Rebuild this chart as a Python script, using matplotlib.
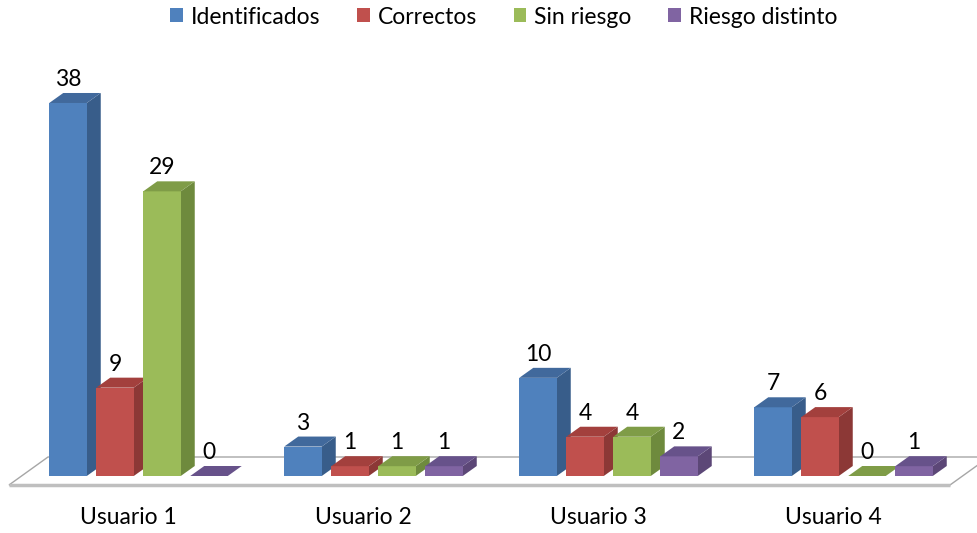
import matplotlib
matplotlib.use("Agg")
import matplotlib.pyplot as plt
from matplotlib.patches import Polygon, Patch

categories = ["Usuario 1", "Usuario 2", "Usuario 3", "Usuario 4"]
series_names = ["Identificados", "Correctos", "Sin riesgo", "Riesgo distinto"]
identificados = [38, 3, 10, 7]
correctos = [9, 1, 4, 6]
sin_riesgo = [29, 1, 4, 0]
riesgo_distinto = [0, 1, 2, 1]
series_values = [identificados, correctos, sin_riesgo, riesgo_distinto]

# colours: front, side, top
front_cols = ["#4F81BD", "#C0504D", "#9BBB59", "#8064A2"]
side_cols = ["#385D8A", "#8C3836", "#6E8A3D", "#5C4777"]
top_cols = ["#41699C", "#A3403D", "#7F9C47", "#67528A"]

FONT = "Lato"
FS = 16.5
W_PX, H_PX = 978, 533
fig = plt.figure(figsize=(W_PX / 100, H_PX / 100), dpi=100)
ax = fig.add_axes([0, 0, 1, 1])
ax.set_axis_off()

PX_PER_GROUP = 235.0
PX_PER_VAL = 9.816
x0_px = 138.5   # pixel of group 0 centre
y0_px = 476.0   # pixel (from top) of value 0 at bar front
ax.set_xlim(-x0_px / PX_PER_GROUP, (W_PX - x0_px) / PX_PER_GROUP)
ax.set_ylim(-(H_PX - y0_px) / PX_PER_VAL, y0_px / PX_PER_VAL)

bar_w = 37.5 / PX_PER_GROUP
pitch = 47.0 / PX_PER_GROUP
ddx = 14.0 / PX_PER_GROUP
ddy = 10.0 / PX_PER_VAL

# floor
fl_x0 = (9 - x0_px) / PX_PER_GROUP
fl_x1 = (950 - x0_px) / PX_PER_GROUP
fl_y = (y0_px - 485) / PX_PER_VAL
fdx = 39 / PX_PER_GROUP
fdy = 28 / PX_PER_VAL
floor = Polygon([(fl_x0, fl_y), (fl_x1, fl_y), (fl_x1 + fdx, fl_y + fdy), (fl_x0 + fdx, fl_y + fdy)],
                closed=True, facecolor="white", edgecolor="#A6A6A6", lw=1.0, zorder=1)
ax.add_patch(floor)
ax.plot([fl_x0, fl_x1], [fl_y, fl_y], color="#BFBFBF", lw=2.5, zorder=1.5, solid_capstyle="butt")

z = 2
for g in range(len(categories)):
    for s in range(len(series_values)):
        v = series_values[s][g]
        xl = g + (s - 1.5) * pitch - bar_w / 2
        xr = xl + bar_w
        if v > 0:
            front = Polygon([(xl, 0), (xr, 0), (xr, v), (xl, v)], closed=True,
                            facecolor=front_cols[s], edgecolor="none", zorder=z)
            side = Polygon([(xr, 0), (xr + ddx, ddy), (xr + ddx, v + ddy), (xr, v)], closed=True,
                           facecolor=side_cols[s], edgecolor="none", zorder=z)
            ax.add_patch(side)
            ax.add_patch(front)
        top = Polygon([(xl, v), (xr, v), (xr + ddx, v + ddy), (xl + ddx, v + ddy)], closed=True,
                      facecolor=top_cols[s], edgecolor="none", zorder=z)
        ax.add_patch(top)
        ax.text((xl + xr) / 2, v + 23.5 / PX_PER_VAL, str(v), ha="center", va="center",
                fontsize=FS, family=FONT, color="black", zorder=z + 1)
        z += 1

for g, cat in enumerate(categories):
    ax.text(g - 10 / PX_PER_GROUP, (y0_px - 517) / PX_PER_VAL, cat, ha="center", va="center",
            fontsize=FS, family=FONT, color="black")

handles = [Patch(facecolor=c, edgecolor="none") for c in front_cols]
fig.legend(handles, series_names, loc="center", bbox_to_anchor=(504 / W_PX, 1 - 17 / H_PX),
           ncol=4, frameon=False, handlelength=0.55, handleheight=0.55, handletextpad=0.35,
           columnspacing=1.6, borderpad=0, prop={"family": FONT, "size": FS})

fig.savefig("out.png", dpi=100, facecolor="white")
